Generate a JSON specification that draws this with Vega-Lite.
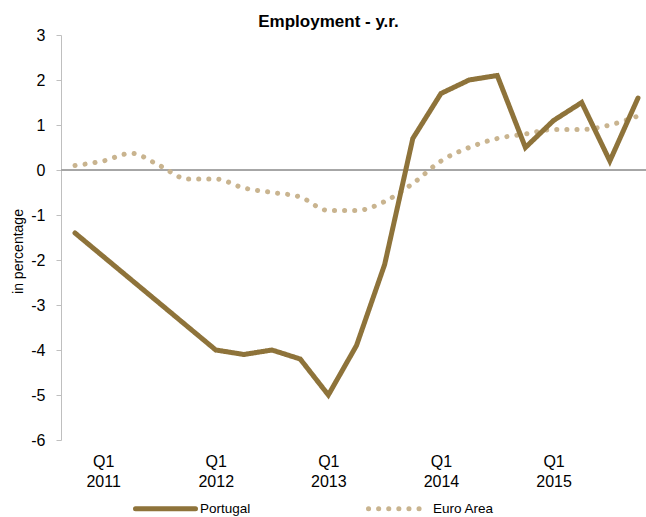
{
  "$schema": "https://vega.github.io/schema/vega-lite/v6.json",
  "width": 585,
  "height": 405,
  "autosize": {"type": "none"},
  "padding": {"left": 61, "top": 35, "right": 0, "bottom": 77},
  "background": "white",
  "title": {"text": "Employment - y.r.", "fontSize": 17, "font": "Liberation Sans", "fontWeight": "bold", "color": "#000000", "anchor": "middle", "dx": -25, "dy": 22, "offset": 5, "baseline": "alphabetic"},
  "config": {"font": "Liberation Sans", "view": {"stroke": null}},
  "data": {"values": [
    {"period": "2010 Q4", "series": "Euro Area", "value": 0.1},
    {"period": "2011 Q1", "series": "Euro Area", "value": 0.2},
    {"period": "2011 Q2", "series": "Euro Area", "value": 0.37},
    {"period": "2011 Q3", "series": "Euro Area", "value": 0.1},
    {"period": "2011 Q4", "series": "Euro Area", "value": -0.2},
    {"period": "2012 Q1", "series": "Euro Area", "value": -0.2},
    {"period": "2012 Q2", "series": "Euro Area", "value": -0.4},
    {"period": "2012 Q3", "series": "Euro Area", "value": -0.5},
    {"period": "2012 Q4", "series": "Euro Area", "value": -0.6},
    {"period": "2013 Q1", "series": "Euro Area", "value": -0.9},
    {"period": "2013 Q2", "series": "Euro Area", "value": -0.9},
    {"period": "2013 Q3", "series": "Euro Area", "value": -0.7},
    {"period": "2013 Q4", "series": "Euro Area", "value": -0.3},
    {"period": "2014 Q1", "series": "Euro Area", "value": 0.2},
    {"period": "2014 Q2", "series": "Euro Area", "value": 0.5},
    {"period": "2014 Q3", "series": "Euro Area", "value": 0.7},
    {"period": "2014 Q4", "series": "Euro Area", "value": 0.8},
    {"period": "2015 Q1", "series": "Euro Area", "value": 0.9},
    {"period": "2015 Q2", "series": "Euro Area", "value": 0.9},
    {"period": "2015 Q3", "series": "Euro Area", "value": 1.0},
    {"period": "2015 Q4", "series": "Euro Area", "value": 1.2},
    {"period": "2010 Q4", "series": "Portugal", "value": -1.4},
    {"period": "2012 Q1", "series": "Portugal", "value": -4.0},
    {"period": "2012 Q2", "series": "Portugal", "value": -4.1},
    {"period": "2012 Q3", "series": "Portugal", "value": -4.0},
    {"period": "2012 Q4", "series": "Portugal", "value": -4.2},
    {"period": "2013 Q1", "series": "Portugal", "value": -5.0},
    {"period": "2013 Q2", "series": "Portugal", "value": -3.9},
    {"period": "2013 Q3", "series": "Portugal", "value": -2.1},
    {"period": "2013 Q4", "series": "Portugal", "value": 0.7},
    {"period": "2014 Q1", "series": "Portugal", "value": 1.7},
    {"period": "2014 Q2", "series": "Portugal", "value": 2.0},
    {"period": "2014 Q3", "series": "Portugal", "value": 2.1},
    {"period": "2014 Q4", "series": "Portugal", "value": 0.5},
    {"period": "2015 Q1", "series": "Portugal", "value": 1.1},
    {"period": "2015 Q2", "series": "Portugal", "value": 1.5},
    {"period": "2015 Q3", "series": "Portugal", "value": 0.2},
    {"period": "2015 Q4", "series": "Portugal", "value": 1.6}
  ]},
  "encoding": {
    "x": {
      "field": "period", "type": "nominal",
      "scale": {"type": "point", "padding": 0, "domain": ["2010 Q4","2011 Q1","2011 Q2","2011 Q3","2011 Q4","2012 Q1","2012 Q2","2012 Q3","2012 Q4","2013 Q1","2013 Q2","2013 Q3","2013 Q4","2014 Q1","2014 Q2","2014 Q3","2014 Q4","2015 Q1","2015 Q2","2015 Q3","2015 Q4"], "range": [14, 577]},
      "axis": {"title": null, "domain": false, "ticks": false, "grid": false, "labelAngle": 0, "labelFontSize": 16, "labelColor": "#000000", "labelBaseline": "top", "labelPadding": 13, "labelLineHeight": 20, "labelOverlap": false, "labelFlush": false,
        "labelExpr": "slice(datum.value, 5) == 'Q1' ? ['Q1', slice(datum.value, 0, 4)] : ''"}
    },
    "y": {
      "field": "value", "type": "quantitative",
      "scale": {"domain": [-6, 3], "nice": false, "zero": false},
      "axis": {"values": [-6,-5,-4,-3,-2,-1,0,1,2,3], "grid": false, "domainColor": "#BFBFBF", "tickColor": "#BFBFBF", "tickSize": 5, "labelFontSize": 16, "labelColor": "#000000", "labelPadding": 11, "labelExpr": "'' + datum.value",
        "title": "in percentage", "titleFontSize": 14, "titleFontWeight": "normal", "titleColor": "#000000", "titleX": -43, "titleY": 216, "titleAngle": -90, "titleAlign": "center", "titleBaseline": "middle"}
    }
  },
  "layer": [
    {
      "mark": {"type": "rule", "color": "#A6A6A6", "strokeWidth": 1},
      "encoding": {"x": null, "y": {"datum": 0, "type": "quantitative"}}
    },
    {
      "transform": [{"filter": "datum.series == 'Euro Area'"}],
      "mark": {"type": "line", "strokeWidth": 5, "strokeCap": "round", "interpolate": "monotone"},
      "encoding": {
        "color": {"field": "series", "type": "nominal", "scale": {"domain": ["Portugal", "Euro Area"], "range": ["#8E733A", "#C9B48F"]},
          "legend": {"title": null, "orient": "none", "legendX": 72, "legendY": 441, "direction": "horizontal", "symbolType": "stroke", "symbolSize": 3600, "symbolStrokeWidth": 5, "labelFontSize": 13.5, "labelColor": "#000000", "labelOffset": 2, "columnPadding": 107, "padding": 0,
            "encode": {"symbols": {"update": {"strokeCap": {"value": "round"}}}}}},
        "strokeDash": {"field": "series", "type": "nominal", "scale": {"domain": ["Portugal", "Euro Area"], "range": [[1, 0], [0.1, 10]]}, "legend": null}
      }
    },
    {
      "transform": [{"filter": "datum.series == 'Portugal'"}],
      "mark": {"type": "line", "strokeWidth": 5, "strokeCap": "round", "interpolate": "linear"},
      "encoding": {
        "color": {"field": "series", "type": "nominal"},
        "strokeDash": {"field": "series", "type": "nominal"}
      }
    }
  ]
}
